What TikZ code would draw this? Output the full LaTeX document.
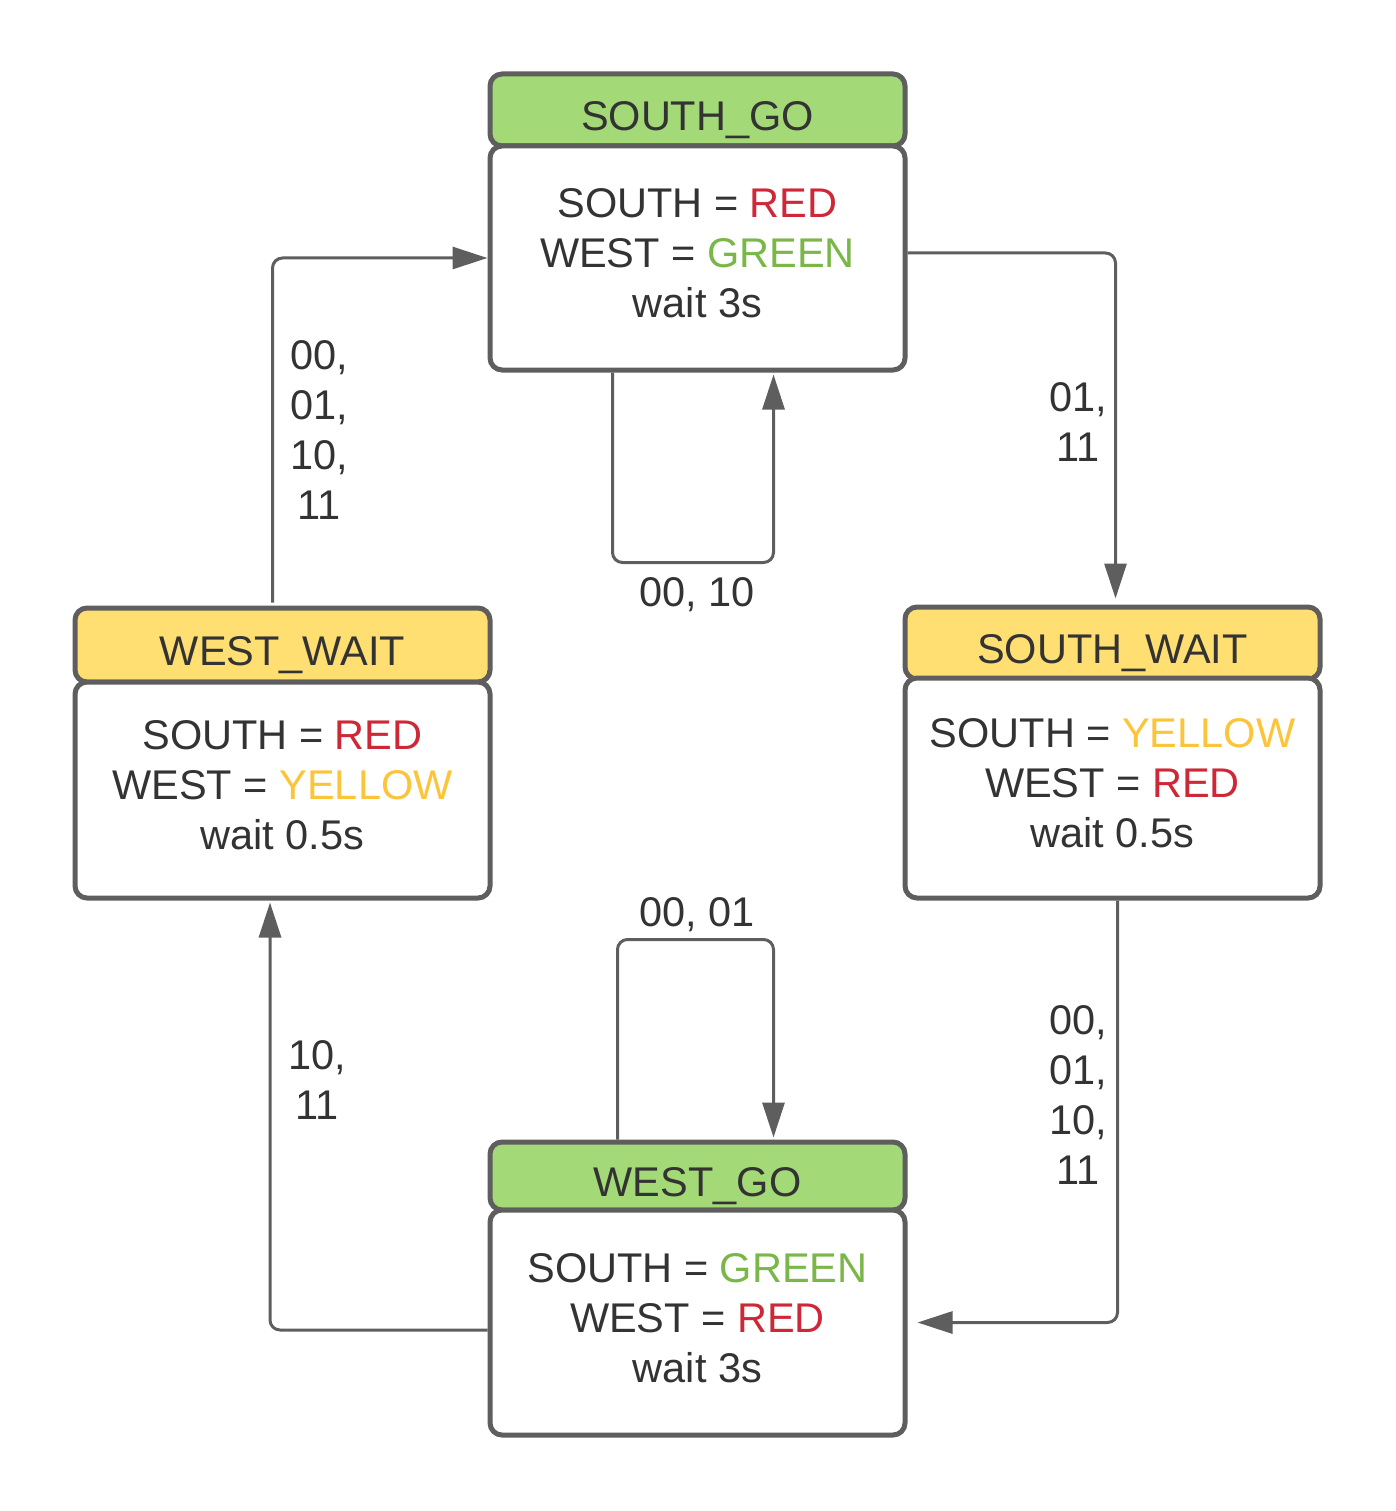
\documentclass[tikz,border=0pt]{standalone}
\usepackage{fontspec}
\setmainfont{Liberation Sans}
\usetikzlibrary{arrows.meta}

\definecolor{linegray}{RGB}{94,94,94}
\definecolor{textdark}{RGB}{51,51,51}
\definecolor{headgreen}{RGB}{163,217,119}
\definecolor{headyellow}{RGB}{255,223,113}
\definecolor{sigred}{RGB}{206,40,56}
\definecolor{siggreen}{RGB}{122,182,72}
\definecolor{sigyellow}{RGB}{252,196,56}

\begin{document}
\begin{tikzpicture}[x=1pt,y=-1pt]
    \tikzset{head/.style = {draw=linegray, line width=5pt, rounded corners=12pt, minimum width=415pt, text=textdark, text height=41pt, text depth=0pt, inner sep=0pt, font=\fontsize{41.5}{50}\selectfont}}
    \tikzset{body/.style = {draw=linegray, line width=5pt, rounded corners=12pt, fill=white, minimum width=415pt, inner sep=0pt, align=center, text=textdark, text depth=10pt, font=\fontsize{41.5}{50}\selectfont}}
    \tikzset{edge/.style = {draw=linegray, line width=3pt, rounded corners=10pt, -{Triangle[length=35pt,width=22pt]}}}
    \tikzset{cond/.style = {align=center, text=textdark, font=\fontsize{41.5}{50}\selectfont}}

    \useasboundingbox (0,0) rectangle (1395,1511);

    % states
    \node[head, fill=headgreen, minimum height=72pt] (sgo head) at (697.5,110) {SOUTH\_GO};
    \node[body, minimum height=224pt] (sgo) at (697.5,258) {SOUTH = \textcolor{sigred}{RED}\\WEST = \textcolor{siggreen}{GREEN}\\wait 3s};

    \node[head, fill=headyellow, minimum height=72pt] (swait head) at (1112.5,643) {SOUTH\_WAIT};
    \node[body, minimum height=220pt] (swait) at (1112.5,788) {SOUTH = \textcolor{sigyellow}{YELLOW}\\WEST = \textcolor{sigred}{RED}\\wait 0.5s};

    \node[head, fill=headgreen, minimum height=68pt] (wgo head) at (697.5,1176) {WEST\_GO};
    \node[body, minimum height=225pt] (wgo) at (697.5,1322.5) {SOUTH = \textcolor{siggreen}{GREEN}\\WEST = \textcolor{sigred}{RED}\\wait 3s};

    \node[head, fill=headyellow, minimum height=74pt] (wwait head) at (282.5,645) {WEST\_WAIT};
    \node[body, minimum height=216pt] (wwait) at (282.5,790) {SOUTH = \textcolor{sigred}{RED}\\WEST = \textcolor{sigyellow}{YELLOW}\\wait 0.5s};

    % transitions
    \draw[edge, shorten >=6pt] ([yshift=5pt]sgo.east) -| ([xshift=3pt]swait head.north);
    \draw[edge, shorten >=2pt] ([xshift=-85pt]sgo.south) -- ++(0,190) -| ([xshift=76pt]sgo.south);
    \draw[edge, shorten >=10pt] ([xshift=5pt]swait.south) |- (wgo.east);
    \draw[edge, shorten >=2pt] ([xshift=-80pt]wgo head.north) -- ++(0,-200) -| ([xshift=76pt]wgo head.north);
    \draw[edge, shorten >=2pt] ([yshift=-7.5pt]wgo.west) -| ([xshift=-12.5pt]wwait.south);
    \draw[edge, shorten <=3pt] ([xshift=-10pt]wwait head.north) |- (sgo.west);

    % conditions
    \node[cond] (c sgo swait) at (1078,422) {01,\\11};
    \node[cond] (c sgo sgo) at (697,595) {00, 10};
    \node[cond] (c swait wgo) at (1078,1095) {00,\\01,\\10,\\11};
    \node[cond] (c wgo wgo) at (697,915) {00, 01};
    \node[cond] (c wgo wwait) at (317,1080) {10,\\11};
    \node[cond] (c wwait sgo) at (319,430) {00,\\01,\\10,\\11};
\end{tikzpicture}
\end{document}
